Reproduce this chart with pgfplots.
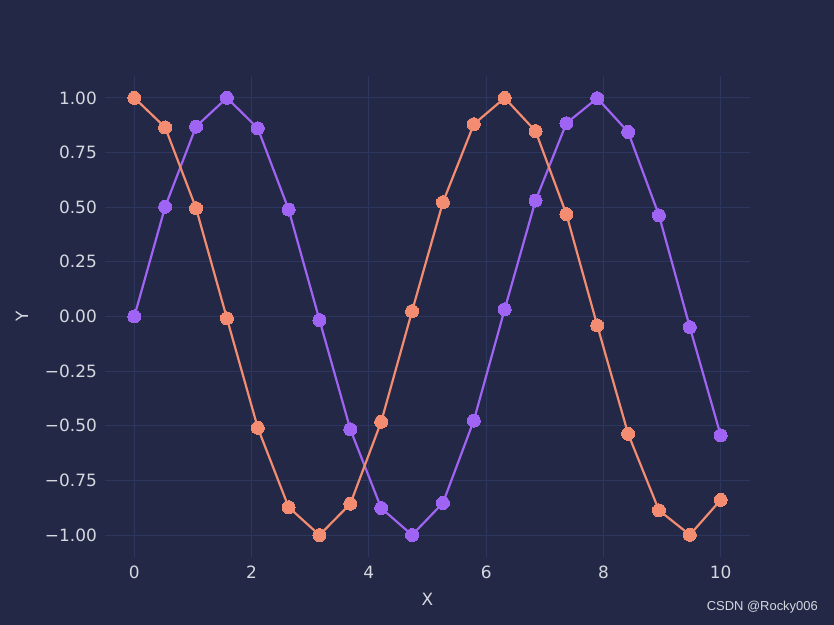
\documentclass[border=0pt]{standalone}
\usepackage{pgfplots}
\pgfplotsset{compat=1.18}
\usepackage{fontspec}
\setmainfont{DejaVu Sans}
\newfontfamily\wmfont{Liberation Sans}
\definecolor{bgc}{RGB}{34,40,69}
\definecolor{gridc}{RGB}{45,54,94}
\definecolor{tickc}{RGB}{214,216,224}
\definecolor{purp}{RGB}{160,100,245}
\definecolor{salm}{RGB}{243,140,112}
\begin{document}
\begin{tikzpicture}[x=1bp,y=1bp]
\fill[bgc] (0,0) rectangle (834,625);
\begin{axis}[
  at={(105bp,68bp)}, anchor=south west,
  scale only axis, width=645bp, height=481bp,
  xmin=-0.5, xmax=10.5, ymin=-1.1, ymax=1.1,
  axis line style={draw=none},
  major tick length=0pt,
  grid=major, grid style={gridc, line width=1bp},
  xtick={0,2,4,6,8,10},
  ytick={-1,-0.75,-0.5,-0.25,0,0.25,0.5,0.75,1},
  yticklabels={−1.00,−0.75,−0.50,−0.25,0.00,0.25,0.50,0.75,1.00},
  /pgf/number format/assume math mode=true,
  tick label style={font=\fontsize{17}{17}\selectfont, text=tickc},
  xticklabel style={anchor=north, inner sep=0pt, yshift=-9bp},
  yticklabel style={anchor=east, inner sep=0pt, xshift=-8bp},
  xlabel={X}, ylabel={Y},
  label style={font=\fontsize{17}{17}\selectfont, text=tickc},
  xlabel style={at={(axis description cs:0.5,0)}, anchor=center, yshift=-42bp},
  ylabel style={at={(axis description cs:0,0.5)}, anchor=center, yshift=83bp},
  clip=false,
]
\addplot[purp, line width=2.2bp, mark=*, mark size=6.5bp, mark options={fill=purp, draw=purp, line width=0pt}] coordinates {
(0,0) (0.5263,0.5023) (1.0526,0.8687) (1.5789,0.99998) (2.1053,0.8608) (2.6316,0.4892) (3.1579,-0.0163) (3.6842,-0.5163) (4.2105,-0.8765) (4.7368,-0.9995) (5.2632,-0.8527) (5.7895,-0.4759) (6.3158,0.0326) (6.8421,0.5301) (7.3684,0.8838) (7.8947,0.9985) (8.4211,0.8439) (8.9474,0.4625) (9.4737,-0.0489) (10,-0.5440)
};
\addplot[salm, line width=2.2bp, mark=*, mark size=6.5bp, mark options={fill=salm, draw=salm, line width=0pt}] coordinates {
(0,1) (0.5263,0.8646) (1.0526,0.4953) (1.5789,-0.0082) (2.1053,-0.5089) (2.6316,-0.8722) (3.1579,-0.9999) (3.6842,-0.8564) (4.2105,-0.4813) (4.7368,0.0245) (5.2632,0.5225) (5.7895,0.8795) (6.3158,0.9995) (6.8421,0.8480) (7.3684,0.4681) (7.8947,-0.0408) (8.4211,-0.5366) (8.9474,-0.8866) (9.4737,-0.9988) (10,-0.8391)
};
\end{axis}
\node[text=tickc, font=\wmfont\fontsize{13}{13}\selectfont, anchor=east, inner sep=0pt] at (818,18) {CSDN @Rocky006};
\end{tikzpicture}
\end{document}
